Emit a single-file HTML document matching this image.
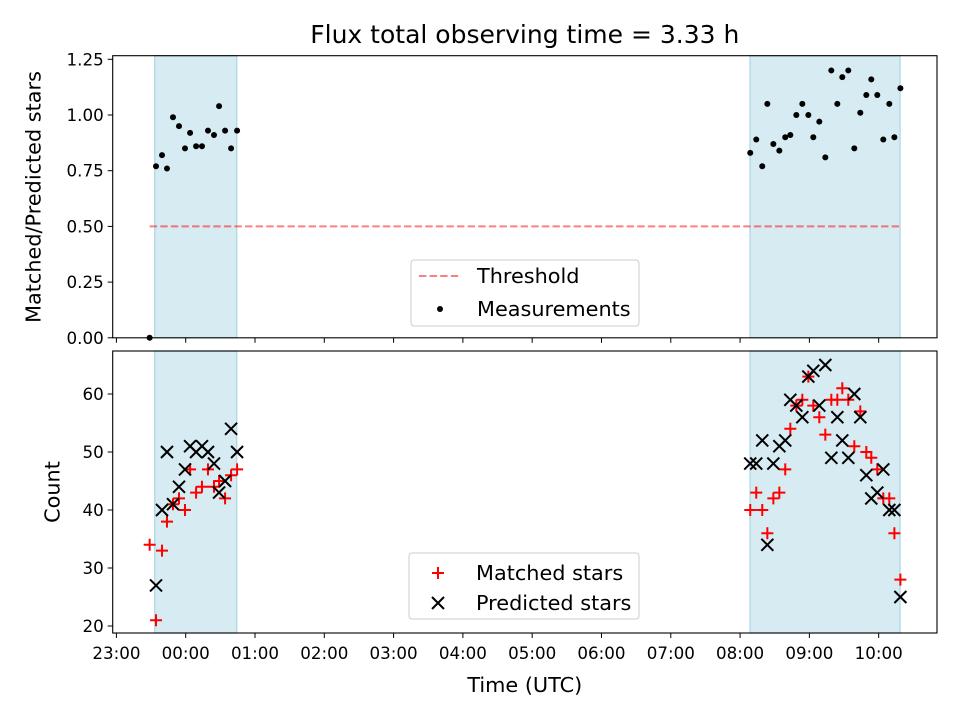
<!DOCTYPE html>
<html><head><meta charset="utf-8"><style>
html,body{margin:0;padding:0;background:#fff;}
svg{display:block;font-family:"DejaVu Sans","Liberation Sans",sans-serif;}
</style></head><body>
<svg id="fig" width="960" height="720" viewBox="0 0 960 720" xmlns="http://www.w3.org/2000/svg"></svg>
<script>
// ---- data (minutes after 23:00 UTC) ----
const timesA = [28.8,34.3,39.5,43.8,49.0,54.2,59.4,63.8,69.0,74.1,79.3,84.5,88.9,94.1,99.3,104.5];
const ratioA = [0,0.77,0.82,0.76,0.99,0.95,0.85,0.92,0.86,0.86,0.93,0.91,1.04,0.93,0.85,0.93];
const matchedA = [34,21,33,38,41,42,40,47,43,44,47,44,45,42,46,47];
const predictedA = [null,27,40,50,41,44,47,51,50,51,50,48,43,45,54,50];
const timesB = [548.8,554.0,559.2,563.6,568.8,574.0,579.1,583.5,588.7,593.9,599.1,603.4,608.6,613.8,619.0,624.2,628.5,633.7,638.9,644.1,649.3,653.6,658.8,664.0,669.2,673.6,678.8];
const ratioB = [0.83,0.89,0.77,1.05,0.87,0.84,0.90,0.91,1.0,1.05,1.0,0.90,0.97,0.81,1.20,1.05,1.17,1.20,0.85,1.01,1.09,1.16,1.09,0.89,1.05,0.90,1.12];
const matchedB = [40,43,40,36,42,43,47,54,58,59,63,58,56,53,59,59,61,59,51,57,50,49,47,42,42,36,28];
const predictedB = [48,48,52,34,48,51,52,59,58,56,63,64,58,65,49,56,52,49,60,56,46,42,43,47,40,40,25];
const spans = [[33.2,104.2],[548.6,678.5]];
const threshold = 0.5;
const xTickLabels = ["23:00","00:00","01:00","02:00","03:00","04:00","05:00","06:00","07:00","08:00","09:00","10:00"];
const yTicksTop = [0,0.25,0.5,0.75,1.0,1.25];
const yTicksBot = [20,30,40,50,60];

const times = timesA.concat(timesB), ratio = ratioA.concat(ratioB);
const matched = matchedA.concat(matchedB), predicted = predictedA.concat(predictedB);

const NS="http://www.w3.org/2000/svg", svg=document.getElementById('fig');
function mk(tag,attrs,parent){const e=document.createElementNS(NS,tag);for(const k in attrs)e.setAttribute(k,attrs[k]);(parent||svg).appendChild(e);return e;}
const L=112.7,R=937;
const X0=-3.2,X1=710.5;
const xs=m=>L+(m-X0)/(X1-X0)*(R-L);
const topT=55.7,topB=337.8;
const yTop=v=>337.8-v*222.8;
const botT=351,botB=633;
const yBot=v=>626-(v-20)*5.8;
const FS=20.8;

function drawAxes(T,B,name){
  const g=mk('g',{});
  
  
  for(const s of spans){
    const r=mk('rect',{x:xs(s[0]),y:T,width:xs(s[1])-xs(s[0]),height:B-T,fill:'#add8e6','fill-opacity':0.5,stroke:'#add8e6','stroke-width':1.3},g);
    
    
  }
  for(let i=0;i<xTickLabels.length;i++){
    const x=xs(i*60);
    mk('line',{x1:x,x2:x,y1:B,y2:B+5,stroke:'#000','stroke-width':1},g);
  }
  return g;
}
// title
const title=mk('text',{x:524.8,y:43,'text-anchor':'middle','font-size':25});
title.textContent='Flux total observing time = 3.33 h';



// top panel
const gt=drawAxes(topT,topB,'ratio');
for(const v of yTicksTop){
  const y=yTop(v);
  mk('line',{x1:L-5,x2:L,y1:y,y2:y,stroke:'#000','stroke-width':1},gt);
  const t=mk('text',{x:L-9,y:y+6,'text-anchor':'end','font-size':16.7},gt);
  t.textContent=v.toFixed(2);
  
  
}
const tmin=Math.min(...times), tmax=Math.max(...times);
const th=mk('line',{x1:xs(tmin),x2:xs(tmax),y1:yTop(threshold),y2:yTop(threshold),stroke:'#ff0000','stroke-opacity':0.5,'stroke-width':2,'stroke-dasharray':'7.4,3.2'},gt);


for(let i=0;i<times.length;i++){
  const c=mk('circle',{cx:xs(times[i]),cy:yTop(ratio[i]),r:3,fill:'#000'},gt);
  
  
}
mk('rect',{x:L,y:topT,width:R-L,height:topB-topT,fill:'none',stroke:'#000','stroke-width':1.1},gt);
const yl1=mk('text',{transform:'translate(40.5,197) rotate(-90)','text-anchor':'middle','font-size':FS});
yl1.textContent='Matched/Predicted stars';


// top legend
const lg1=mk('g',{});


mk('rect',{x:411,y:260,width:228,height:66,rx:3,fill:'#fff','fill-opacity':0.8,stroke:'#ccc','stroke-width':1},lg1);
mk('line',{x1:419,x2:461,y1:276,y2:276,stroke:'#ff0000','stroke-opacity':0.5,'stroke-width':2,'stroke-dasharray':'7.4,3.2'},lg1);
let t=mk('text',{x:477,y:283,'font-size':FS},lg1);t.textContent='Threshold';
mk('circle',{cx:440,cy:309,r:3,fill:'#000'},lg1);
t=mk('text',{x:477,y:316,'font-size':FS},lg1);t.textContent='Measurements';

// bottom panel
const gb=drawAxes(botT,botB,'count');
for(const v of yTicksBot){
  const y=yBot(v);
  mk('line',{x1:L-5,x2:L,y1:y,y2:y,stroke:'#000','stroke-width':1},gb);
  const tt=mk('text',{x:L-9,y:y+6,'text-anchor':'end','font-size':16.7},gb);
  tt.textContent=String(v);
  
  
}
function plus(x,y,g){const p=mk('path',{d:`M${x-6},${y}H${x+6}M${x},${y-6}V${y+6}`,stroke:'#ff0000','stroke-width':2},g);return p;}
function cross(x,y,g){const p=mk('path',{d:`M${x-6},${y-6}L${x+6},${y+6}M${x-6},${y+6}L${x+6},${y-6}`,stroke:'#000','stroke-width':2},g);return p;}
for(let i=0;i<times.length;i++){
  const p=plus(xs(times[i]),yBot(matched[i]),gb);
  
  
}
for(let i=0;i<times.length;i++){
  if(predicted[i]===null)continue;
  const p=cross(xs(times[i]),yBot(predicted[i]),gb);
  
  
}
mk('rect',{x:L,y:botT,width:R-L,height:botB-botT,fill:'none',stroke:'#000','stroke-width':1.1},gb);
for(let i=0;i<xTickLabels.length;i++){
  const tx=mk('text',{x:xs(i*60),y:botB+26,'text-anchor':'middle','font-size':16.7});
  tx.textContent=xTickLabels[i];
  
  
}
const xl=mk('text',{x:524.8,y:692,'text-anchor':'middle','font-size':FS});
xl.textContent='Time (UTC)';


const yl2=mk('text',{transform:'translate(59.5,492) rotate(-90)','text-anchor':'middle','font-size':FS});
yl2.textContent='Count';


// bottom legend
const lg2=mk('g',{});


mk('rect',{x:409,y:553,width:230,height:66,rx:3,fill:'#fff','fill-opacity':0.8,stroke:'#ccc','stroke-width':1},lg2);
plus(438,573,lg2);
t=mk('text',{x:476,y:580,'font-size':FS},lg2);t.textContent='Matched stars';
cross(438,603,lg2);
t=mk('text',{x:476,y:610,'font-size':FS},lg2);t.textContent='Predicted stars';
</script>
</body></html>
